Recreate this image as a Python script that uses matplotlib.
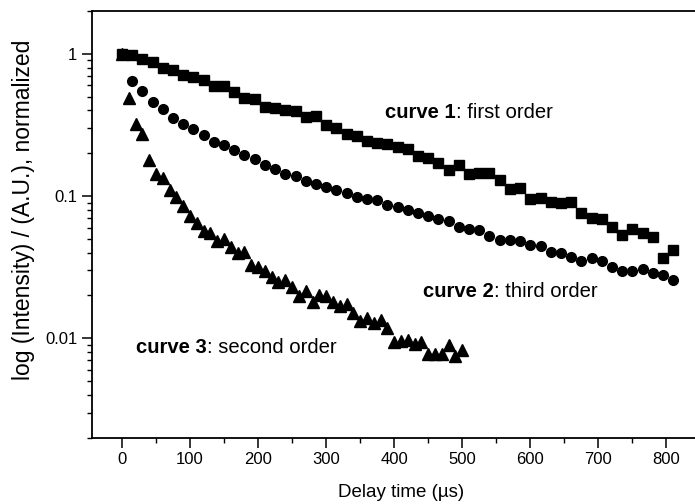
import matplotlib
matplotlib.use("Agg")
import matplotlib.pyplot as plt
from matplotlib import ticker

plt.rcParams["font.family"] = ["Liberation Sans", "DejaVu Sans"]

# curve 1 (squares), every 15 us
t_sq = list(range(0, 811, 15))
v_sq = [1.0, 0.984, 0.918, 0.878, 0.801, 0.768, 0.711, 0.685, 0.653, 0.598,
        0.595, 0.540, 0.488, 0.480, 0.426, 0.417, 0.404, 0.397, 0.358, 0.368,
        0.315, 0.303, 0.273, 0.265, 0.244, 0.235, 0.232, 0.221, 0.214, 0.192,
        0.186, 0.170, 0.153, 0.166, 0.142, 0.145, 0.146, 0.129, 0.113, 0.114,
        0.0948, 0.0964, 0.0912, 0.0889, 0.0903, 0.0763, 0.0697, 0.0689, 0.0602,
        0.0534, 0.0589, 0.0551, 0.0517, 0.0368, 0.0417]

# curve 2 (circles), every 15 us
t_ci = list(range(0, 811, 15))
v_ci = [1.0, 0.645, 0.552, 0.461, 0.408, 0.356, 0.320, 0.296, 0.269, 0.241,
        0.229, 0.211, 0.194, 0.181, 0.165, 0.155, 0.144, 0.139, 0.128, 0.121,
        0.116, 0.110, 0.105, 0.0988, 0.0953, 0.0933, 0.0861, 0.0841, 0.0797,
        0.0763, 0.0727, 0.0685, 0.0667, 0.0608, 0.0583, 0.0574, 0.0523, 0.0490,
        0.0490, 0.0484, 0.0452, 0.0444, 0.0405, 0.0399, 0.0374, 0.0350, 0.0364,
        0.0350, 0.0318, 0.0298, 0.0298, 0.0306, 0.0286, 0.0278, 0.0256]

# curve 3 (triangles), every 10 us
t_tr = list(range(0, 501, 10))
v_tr = [1.0, 0.488, 0.320, 0.272, 0.179, 0.144, 0.133, 0.110, 0.0988, 0.0851,
        0.0723, 0.0649, 0.0567, 0.0551, 0.0484, 0.0496, 0.0439, 0.0399, 0.0405,
        0.0327, 0.0315, 0.0298, 0.0270, 0.0249, 0.0256, 0.0230, 0.0198, 0.0215,
        0.0180, 0.0203, 0.0198, 0.0180, 0.0168, 0.0174, 0.0151, 0.0132, 0.0138,
        0.0128, 0.0135, 0.0119, 0.00941, 0.00953, 0.00968, 0.00918, 0.00941,
        0.00780, 0.00771, 0.00771, 0.00903, 0.00750, 0.00823]

labels_bold = ["curve 1", "curve 2", "curve 3"]
labels_rest = [": first order", ": third order", ": second order"]
label_pos = [(387, 0.354), (443, 0.0195), (21, 0.00788)]

fig = plt.figure(figsize=(6.95, 5.04), dpi=100)
ax = fig.add_axes([92 / 695, 1 - 437.7 / 504, 618 / 695, 426.7 / 504])

ax.plot(t_sq, v_sq, "s", color="black", markersize=6.8, linestyle="none")
ax.plot(t_ci, v_ci, "o", color="black", markersize=7, linestyle="none")
ax.plot(t_tr, v_tr, "^", color="black", markersize=8, linestyle="none")

ax.set_yscale("log")
ax.set_ylim(0.002, 2.0)
ax.set_xlim(-44, 864)
ax.set_xticks(range(0, 801, 100))
ax.xaxis.set_minor_locator(ticker.MultipleLocator(50))
ax.yaxis.set_major_formatter(ticker.FuncFormatter(lambda v, _: f"{v:g}"))
ax.yaxis.set_minor_formatter(ticker.NullFormatter())

for s in ax.spines.values():
    s.set_linewidth(1.3)
ax.tick_params(which="major", direction="out", length=7, width=1.1, labelsize=12)
ax.tick_params(which="minor", direction="out", length=3.5, width=1.0)

ax.set_xlabel("Delay time (µs)", fontsize=13.5, labelpad=12)
ax.set_ylabel("log (Intensity) / (A.U.), normalized", fontsize=16.5)
ax.yaxis.set_label_coords(-0.093, 0.534)

for b, r, (x, y) in zip(labels_bold, labels_rest, label_pos):
    t1 = ax.text(x, y, b, fontsize=14.6, fontweight="bold", va="baseline")
    ax.annotate(r, xy=(1, 0), xycoords=t1, fontsize=14.6, va="bottom", ha="left")

fig.savefig("out.png", dpi=100)
